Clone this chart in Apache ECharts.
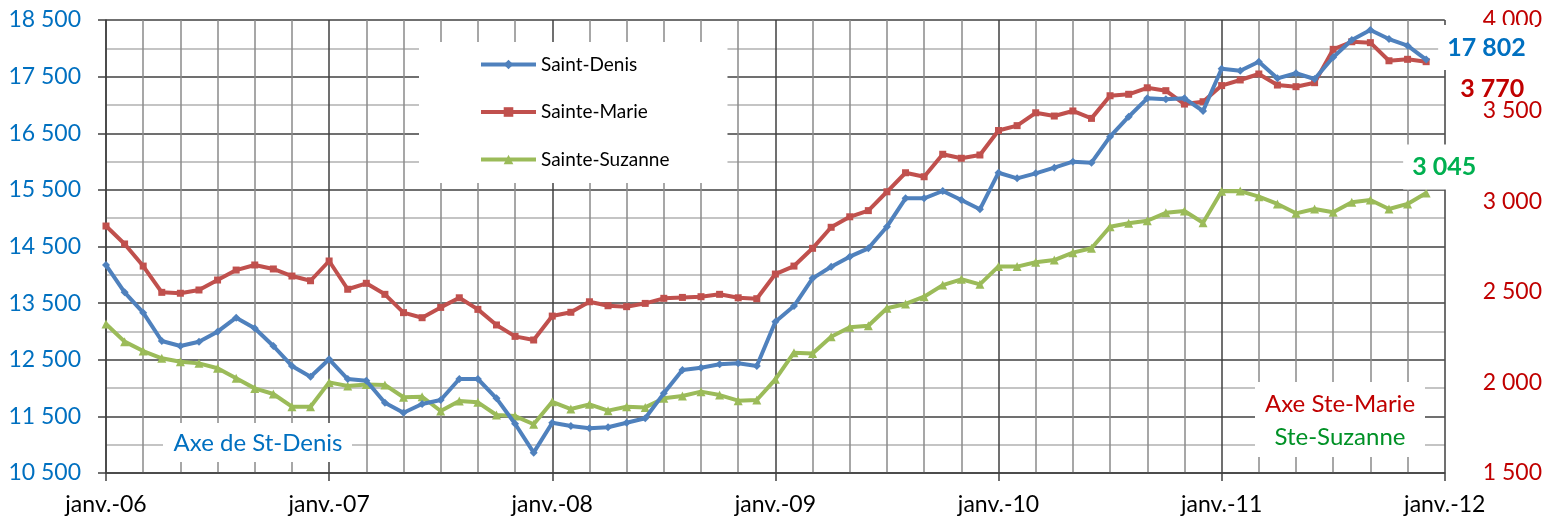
<!DOCTYPE html>
<html lang="fr">
<head>
    <meta charset="UTF-8">
    <title>Saint-Denis, Sainte-Marie, Sainte-Suzanne</title>
    <style>
        html, body { margin: 0; padding: 0; background: #fff; }
    </style>
</head>
<body>
<div id="main" style="width: 1545px;height:521px;"></div>

<script src="https://cdn.jsdelivr.net/npm/echarts@6/dist/echarts.min.js"></script>

<script type="text/javascript">
    // mois : janv.-06 ... déc.-11 (72 points)
    var yearLabels = ['janv.-06', 'janv.-07', 'janv.-08', 'janv.-09', 'janv.-10', 'janv.-11', 'janv.-12'];

    var stDenis = [14173, 13691, 13331, 12831, 12743, 12819, 12995, 13243, 13055, 12743, 12390, 12201,
        12508, 12160, 12130, 11742, 11565, 11719, 11789, 12160, 12160, 11819, 11370, 10859,
        11388, 11330, 11289, 11307, 11388, 11466, 11907, 12319, 12360, 12419, 12437, 12390,
        13172, 13449, 13938, 14143, 14320, 14468, 14850, 15351, 15351, 15480, 15321, 15157,
        15803, 15704, 15792, 15892, 15998, 15980, 16439, 16792, 17117, 17099, 17117, 16893,
        17640, 17605, 17764, 17470, 17559, 17458, 17841, 18147, 18323, 18164, 18046, 17802];

    var steMarie = [2863, 2764, 2642, 2497, 2492, 2510, 2565, 2620, 2648, 2626, 2587, 2561,
        2670, 2514, 2547, 2486, 2385, 2357, 2414, 2467, 2403, 2317, 2254, 2234,
        2366, 2387, 2445, 2423, 2418, 2436, 2464, 2469, 2473, 2486, 2467, 2462,
        2598, 2642, 2740, 2856, 2914, 2948, 3052, 3157, 3135, 3259, 3237, 3255,
        3390, 3417, 3488, 3470, 3498, 3457, 3582, 3590, 3626, 3610, 3536, 3549,
        3638, 3669, 3702, 3641, 3632, 3654, 3838, 3880, 3875, 3775, 3783, 3770];

    var steSuzanne = [2322, 2225, 2173, 2133, 2114, 2105, 2078, 2023, 1967, 1936, 1866, 1866,
        2000, 1980, 1989, 1986, 1918, 1921, 1842, 1897, 1890, 1820, 1814, 1769,
        1893, 1853, 1879, 1844, 1866, 1862, 1912, 1925, 1949, 1930, 1899, 1903,
        2017, 2164, 2160, 2252, 2304, 2313, 2409, 2433, 2473, 2537, 2569, 2541,
        2640, 2639, 2663, 2675, 2716, 2740, 2859, 2878, 2892, 2936, 2946, 2881,
        3055, 3056, 3025, 2985, 2933, 2957, 2939, 2994, 3007, 2957, 2985, 3045];

    // 17802 -> "17 802"
    function fmt(v) {
        return String(v).replace(/\B(?=(\d{3})+(?!\d))/g, ' ');
    }

    function toPoints(arr) {
        return arr.map(function (v, i) { return [i, v]; });
    }

    var font = 'Lato';
    var dark = '#404040';

    var myChart = echarts.init(document.getElementById('main'));

    var option = {
        animation: false,
        backgroundColor: '#fff',
        grid: { left: 106, right: 100, top: 20, bottom: 48 },
        legend: {
            orient: 'vertical',
            left: 419,
            top: 42,
            padding: [13, 58, 14, 60],
            itemWidth: 55,
            itemHeight: 12,
            itemGap: 28.5,
            backgroundColor: '#fff',
            lineStyle: { width: 4 },
            textStyle: { fontFamily: font, fontSize: 19, color: '#000' },
            data: ['Saint-Denis', 'Sainte-Marie', 'Sainte-Suzanne']
        },
        xAxis: {
            type: 'value',
            min: 0,
            max: 72,
            interval: 12,
            axisLine: { show: true, lineStyle: { color: dark, width: 1.5 } },
            axisTick: { show: true, length: 8, lineStyle: { color: dark, width: 1.5 } },
            axisLabel: {
                margin: 20,
                fontFamily: font,
                fontSize: 23,
                color: '#000',
                formatter: function (v) { return yearLabels[Math.round(v / 12)] || ''; }
            },
            splitLine: { show: true, lineStyle: { color: dark, width: 1.5 } },
            minorTick: { show: false, splitNumber: 6 },
            minorSplitLine: { show: true, lineStyle: { color: '#8a8a8a', width: 1.5 } }
        },
        yAxis: [
            {
                type: 'value',
                position: 'left',
                min: 10500,
                max: 18500,
                interval: 1000,
                axisLine: { show: true, lineStyle: { color: dark, width: 1.5 } },
                axisTick: { show: true, length: 8, lineStyle: { color: dark, width: 1.5 } },
                axisLabel: { margin: 25, fontFamily: font, fontSize: 23, color: '#0070c0', formatter: fmt },
                splitLine: { show: true, lineStyle: { color: dark, width: 1.5 } },
                minorTick: { show: false, splitNumber: 2 },
                minorSplitLine: { show: true, lineStyle: { color: '#c4c4c4', width: 2 } }
            },
            {
                type: 'value',
                position: 'right',
                min: 1500,
                max: 4000,
                interval: 500,
                axisLine: { show: false },
                axisTick: { show: false },
                axisLabel: { margin: 38, fontFamily: font, fontSize: 23, color: '#c00000', formatter: fmt },
                splitLine: { show: false }
            }
        ],
        series: [
            {
                name: 'Saint-Denis',
                type: 'line',
                yAxisIndex: 0,
                data: toPoints(stDenis),
                symbol: 'diamond',
                symbolSize: 8,
                lineStyle: { width: 4, color: '#4f81bd' },
                itemStyle: { color: '#4f81bd' },
                endLabel: {
                    show: true,
                    formatter: function (p) { return fmt(p.value[1]); },
                    color: '#0070c0', fontFamily: font, fontWeight: 'bold', fontSize: 25,
                    backgroundColor: '#fff', padding: [10, 9],
                    distance: 0, offset: [12, -12]
                },
                z: 4
            },
            {
                name: 'Sainte-Marie',
                type: 'line',
                yAxisIndex: 1,
                data: toPoints(steMarie),
                symbol: 'rect',
                symbolSize: 7,
                lineStyle: { width: 4, color: '#c0504d' },
                itemStyle: { color: '#c0504d' },
                endLabel: {
                    show: true,
                    formatter: function (p) { return fmt(p.value[1]); },
                    color: '#c00000', fontFamily: font, fontWeight: 'bold', fontSize: 25,
                    distance: 0, offset: [34, 27]
                },
                z: 3
            },
            {
                name: 'Sainte-Suzanne',
                type: 'line',
                yAxisIndex: 1,
                data: toPoints(steSuzanne),
                symbol: 'triangle',
                symbolSize: 9,
                lineStyle: { width: 4, color: '#9bbb59' },
                itemStyle: { color: '#9bbb59' },
                endLabel: {
                    show: true,
                    formatter: function (p) { return fmt(p.value[1]); },
                    color: '#00b050', fontFamily: font, fontWeight: 'bold', fontSize: 25,
                    backgroundColor: '#fff', padding: [10, 9],
                    distance: 0, offset: [-23, -26]
                },
                z: 2
            }
        ],
        graphic: [
            { type: 'rect', shape: { x: 163, y: 423, width: 189, height: 39 }, style: { fill: '#fff' }, z: 1 },
            {
                type: 'text', x: 258, y: 443, z: 2,
                style: { text: 'Axe de St-Denis', fill: '#0070c0', font: '24px Lato', align: 'center', verticalAlign: 'middle' }
            },
            { type: 'rect', shape: { x: 1255, y: 382, width: 170, height: 75 }, style: { fill: '#fff' }, z: 1 },
            {
                type: 'text', x: 1340, y: 404, z: 2,
                style: { text: 'Axe Ste-Marie', fill: '#c00000', font: '24px Lato', align: 'center', verticalAlign: 'middle' }
            },
            {
                type: 'text', x: 1340, y: 437, z: 2,
                style: { text: 'Ste-Suzanne', fill: '#009126', font: '24px Lato', align: 'center', verticalAlign: 'middle' }
            }
        ]
    };

    myChart.setOption(option);
</script>
</body>
</html>
